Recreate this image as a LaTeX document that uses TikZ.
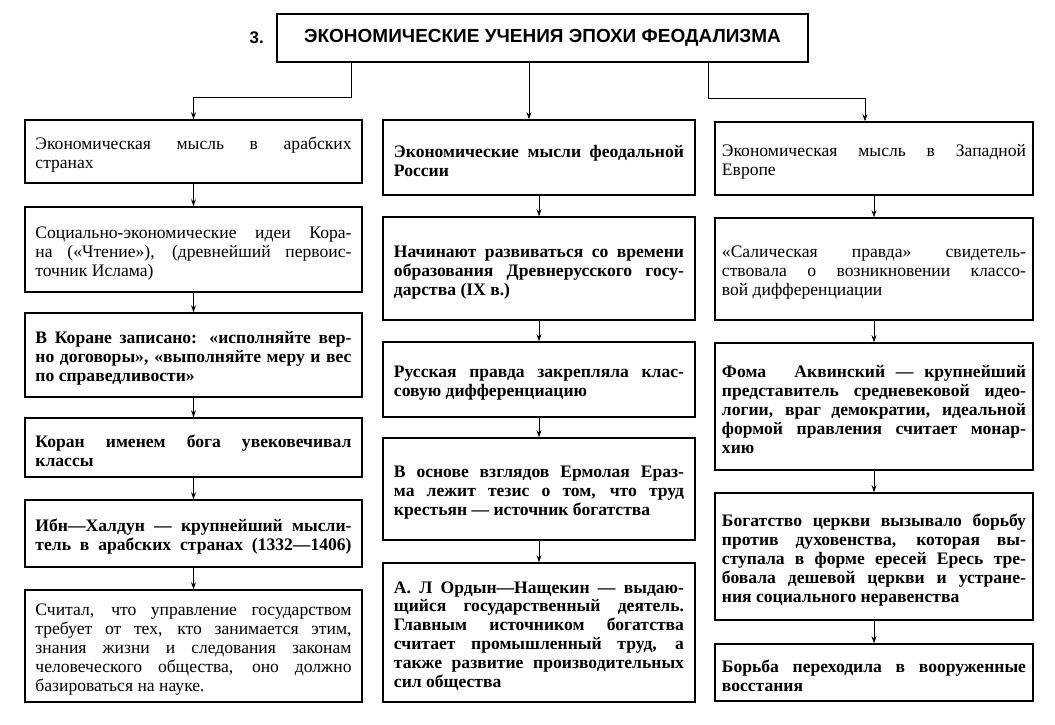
\documentclass[tikz,border=0pt]{standalone}
\usepackage{fontspec}
\setmainfont{Liberation Serif}
\setsansfont{Liberation Sans}
\usetikzlibrary{arrows.meta, positioning}
\newcommand{\jrow}[1]{\par\noindent\hbox to\hsize{#1}\par}
\newcommand{\lrow}[1]{\par\noindent\hbox to\hsize{#1\hfil}\par}

\begin{document}
\begin{tikzpicture}[x=0.025cm, y=-0.025cm,
          textbox/.style={
              draw,
              line width=1pt,
              inner sep=0pt,
              font=\fontsize{12.5}{13.5}\selectfont,
              align=justify
            },
          leftbox/.style={textbox, minimum width=8.425cm, text width=7.9cm},
          midbox/.style={textbox, minimum width=7.8cm, text width=7.25cm},
          rightbox/.style={textbox, minimum width=7.95cm, text width=7.6cm},
          arr/.style={-{Stealth[length=5pt, width=3.5pt]}, line width=0.7pt}
        ]
        \fill[white] (0,0) rectangle (1055,725);
        \useasboundingbox (0,0) rectangle (1055,725);

        \node[draw, line width=1.2pt, minimum width=13.275cm, minimum height=1.2cm,
              font=\sffamily\bfseries\fontsize{13.5}{16}\selectfont] (title) at (542.5,38)
        {ЭКОНОМИЧЕСКИЕ УЧЕНИЯ ЭПОХИ ФЕОДАЛИЗМА};
        \node[left=0.3cm of title, inner sep=0pt, font=\sffamily\bfseries\fontsize{12}{14}\selectfont] (num) {3.};

        \node[leftbox, minimum height=1.575cm] (l1) at (193.5,151.5)
        {\jrow{Экономическая мысль в арабских}\lrow{странах}};
        \node[leftbox, minimum height=2.125cm] (l2) at (193.5,249.5)
        {\jrow{Социально-экономические идеи Кора-}\jrow{на («Чтение»), (древнейший первоис-}\lrow{точник Ислама)}};
        \node[leftbox, minimum height=2.1cm] (l3) at (193.5,355)
        {\bfseries\jrow{В Коране записано: «исполняйте вер-}\jrow{но договоры», «выполняйте меру и вес}\lrow{по справедливости»}};
        \node[leftbox, minimum height=1.475cm] (l4) at (193.5,447.5)
        {\bfseries\jrow{Коран именем бога увековечивал}\lrow{классы}};
        \node[leftbox, minimum height=1.675cm] (l5) at (193.5,533.5)
        {\bfseries\jrow{Ибн—Халдун — крупнейший мысли-}\jrow{тель в арабских странах (1332—1406)}};
        \node[leftbox, minimum height=2.8cm] (l6) at (193.5,646)
        {\jrow{Считал, что управление государством}\jrow{требует от тех, кто занимается этим,}\jrow{знания жизни и следования законам}\jrow{человеческого общества, оно должно}\lrow{базироваться на науке.}};

        \node[midbox, minimum height=1.875cm] (m1) at (539,157.5)
        {\bfseries\jrow{Экономические мысли феодальной}\lrow{России}};
        \node[midbox, minimum height=2.575cm] (m2) at (539,268.5)
        {\bfseries\jrow{Начинают развиваться со времени}\jrow{образования Древнерусского госу-}\lrow{дарства (IX в.)}};
        \node[midbox, minimum height=1.875cm] (m3) at (539,379.5)
        {\bfseries\jrow{Русская правда закрепляла клас-}\lrow{совую дифференциацию}};
        \node[midbox, minimum height=2.55cm] (m4) at (539,489)
        {\bfseries\jrow{В основе взглядов Ермолая Ераз-}\jrow{ма лежит тезис о том, что труд}\lrow{крестьян — источник богатства}};
        \node[midbox, minimum height=3.475cm] (m5) at (539,632.5)
        {\bfseries\jrow{А. Л Ордын—Нащекин — выдаю-}\jrow{щийся государственный деятель.}\jrow{Главным источником богатства}\jrow{считает промышленный труд, а}\jrow{также развитие производительных}\lrow{сил общества}};

        \node[rightbox, minimum height=1.825cm] (r1) at (874,158.5)
        {\jrow{Экономическая мысль в Западной}\lrow{Европе}};
        \node[rightbox, minimum height=2.55cm] (r2) at (874,269)
        {\jrow{«Салическая правда» свидетель-}\jrow{ствовала о возникновении классо-}\lrow{вой дифференциации}};
        \node[rightbox, minimum height=3.175cm] (r3) at (874,406.5)
        {\bfseries\jrow{Фома \quad Аквинский — крупнейший}\jrow{представитель средневековой идео-}\jrow{логии, враг демократии, идеальной}\jrow{формой правления считает монар-}\lrow{хию}};
        \node[rightbox, minimum height=3.175cm] (r4) at (874,556.5)
        {\bfseries\jrow{Богатство церкви вызывало борьбу}\jrow{против духовенства, которая вы-}\jrow{ступала в форме ересей Ересь тре-}\jrow{бовала дешевой церкви и устране-}\lrow{ния социального неравенства}};
        \node[rightbox, minimum height=1.425cm] (r5) at (874,672.5)
        {\bfseries\jrow{Борьба переходила в вооруженные}\lrow{восстания}};

        \coordinate (tl) at ([xshift=-4.7625cm]title.south);
        \coordinate (tm) at ([xshift=-0.3375cm]title.south);
        \coordinate (tr) at ([xshift=4.1375cm]title.south);
        \draw[arr] (tl) -- ++(0,35) -| (l1.north);
        \draw[arr] (tm) -- (tm |- m1.north);
        \draw[arr] (tr) -- ++(0,36) -| ([xshift=-0.225cm]r1.north);

        \draw[arr] (l1) -- (l2);
        \draw[arr] (l2) -- (l3);
        \draw[arr] (l3) -- (l4);
        \draw[arr] (l4) -- (l5);
        \draw[arr] (l5) -- (l6);

        \draw[arr] (m1) -- (m2);
        \draw[arr] (m2) -- (m3);
        \draw[arr] (m3) -- (m4);
        \draw[arr] (m4) -- (m5);

        \draw[arr] (r1) -- (r2);
        \draw[arr] (r2) -- (r3);
        \draw[arr] (r3) -- (r4);
        \draw[arr] (r4) -- (r5);
      \end{tikzpicture}
\end{document}
